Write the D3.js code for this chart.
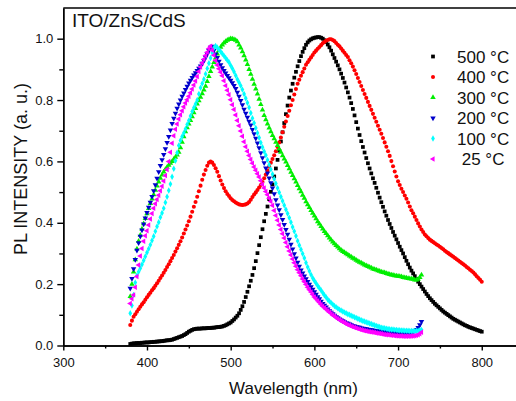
<!DOCTYPE html>
<html>
<head>
<meta charset="utf-8">
<script src="https://cdnjs.cloudflare.com/ajax/libs/d3/7.8.5/d3.min.js"></script>
<style>
  body { margin: 0; background: #fff; }
  text { font-family: "Liberation Sans", Arial, sans-serif; }
</style>
</head>
<body>
<div id="chart"></div>
<script>
// PL spectra, intensity in thousandths, sampled every 2 nm
var startNm = 380;
var stepNm = 2;

var pl500 = [
  5,6,7,7,8,8,8,9,9,10,
  10,10,11,11,12,12,13,13,14,14,
  15,16,17,17,18,19,21,23,25,27,
  29,31,34,37,41,45,48,51,53,54,
  55,55,55,56,56,56,57,57,57,58,
  58,59,60,60,61,62,64,66,69,72,
  75,80,85,91,97,105,116,128,142,158,
  175,193,211,230,252,275,301,327,353,379,
  405,429,453,477,501,525,551,577,605,635,
  665,695,725,754,782,808,831,853,873,892,
  910,927,943,957,969,980,988,994,998,1001,
  1003,1004,1005,1005,1003,1000,995,989,981,972,
  961,949,937,925,913,900,886,872,857,841,
  825,808,790,771,750,728,707,686,666,647,
  629,611,594,577,561,545,530,514,498,482,
  467,452,437,423,409,396,383,370,358,346,
  334,322,311,300,288,276,265,254,244,235,
  226,217,208,200,192,184,176,168,161,154,
  148,142,136,131,126,121,116,111,107,103,
  99,95,91,87,84,81,78,75,72,69,
  66,64,61,59,57,55,53,51,49,47,
  45
];

var pl400 = [
  67,81,94,102,110,118,126,134,141,149,
  157,165,172,180,187,195,203,211,220,228,
  237,246,256,265,275,285,295,306,317,328,
  340,352,365,378,391,405,420,436,452,468,
  485,503,521,540,557,572,586,596,600,596,
  588,578,566,552,538,525,513,503,494,487,
  480,474,470,466,463,460,459,458,459,460,
  463,468,475,484,492,499,507,515,523,533,
  545,557,570,583,596,608,620,633,647,662,
  678,695,713,730,748,765,783,800,818,836,
  853,866,879,891,903,915,923,931,939,947,
  955,961,967,973,979,985,989,993,996,998,
  998,996,992,986,980,975,968,961,954,947,
  940,930,920,909,897,885,872,859,846,833,
  820,807,794,781,768,755,742,729,716,703,
  690,676,662,648,633,618,601,584,567,551,
  535,523,511,500,489,478,466,453,441,431,
  420,409,398,388,378,370,362,356,350,345,
  341,337,333,329,326,322,318,314,309,305,
  301,297,293,289,285,281,277,273,269,265,
  261,256,252,247,243,238,232,226,220,214,
  208
];

var pl300 = [
  160,200,240,280,315,340,360,380,397,414,
  430,447,463,478,492,506,520,533,545,556,
  566,574,581,588,594,600,607,614,621,630,
  645,663,681,697,710,722,734,746,759,773,
  787,798,809,821,833,845,861,877,893,908,
  923,937,950,962,972,980,986,991,995,998,
  1000,999,998,995,990,980,970,958,945,931,
  916,900,884,868,852,836,820,803,786,768,
  750,736,722,709,697,685,674,663,652,641,
  630,619,608,598,587,576,565,554,544,533,
  522,511,501,490,480,469,459,450,440,431,
  422,413,404,396,388,380,372,365,358,351,
  344,338,332,326,321,316,311,307,303,299,
  296,292,289,285,282,278,275,272,269,266,
  263,260,258,255,253,250,248,246,244,242,
  240,238,237,235,233,232,230,229,228,227,
  226,225,224,222,221,220,219,218,217,216,
  214,214,216,222,230
];

var pl200 = [
  186,218,250,280,310,335,356,376,396,415,
  433,450,467,485,504,524,545,566,586,605,
  622,641,661,681,702,723,740,757,773,787,
  800,812,823,834,845,855,864,873,881,889,
  896,903,911,920,929,939,950,961,972,975,
  962,950,938,926,915,905,896,888,880,872,
  864,856,847,837,825,812,798,784,770,757,
  744,731,718,704,690,675,660,644,628,612,
  595,578,562,546,530,513,494,475,458,442,
  426,410,394,378,362,346,330,314,299,285,
  271,258,246,236,226,217,208,199,191,183,
  175,167,159,152,144,137,131,125,119,113,
  108,103,98,94,90,86,83,80,77,74,
  72,70,67,65,63,62,60,59,57,56,
  55,54,53,52,51,50,49,48,47,47,
  46,45,45,44,44,43,43,42,42,42,
  41,41,41,41,41,41,42,42,43,45,
  48,52,58,67,78
];

var pl100 = [
  105,130,165,205,228,240,252,264,277,290,
  303,315,328,342,356,372,388,402,418,432,
  447,466,485,505,526,550,576,602,628,652,
  668,681,693,706,720,733,748,763,775,787,
  800,820,840,854,868,885,903,920,937,954,
  970,976,971,965,958,951,944,937,930,923,
  913,903,892,880,868,857,847,834,820,806,
  791,776,758,741,725,709,693,677,661,646,
  632,620,605,589,574,558,543,528,513,499,
  485,471,457,443,430,416,402,386,372,357,
  341,327,313,299,285,270,256,243,231,220,
  211,203,195,187,180,172,164,157,150,144,
  139,134,129,125,121,117,114,111,108,105,
  102,100,97,95,92,90,87,85,82,80,
  78,76,74,72,70,68,66,64,62,60,
  58,57,56,55,54,53,52,52,51,51,
  50,50,49,49,48,48,48,47,47,47,
  47,47,48,49,51
];

var pl25 = [
  137,152,165,190,225,262,292,316,340,358,
  374,393,412,430,447,462,476,490,504,519,
  536,554,574,600,630,659,684,705,722,738,
  752,765,778,790,801,812,824,836,849,862,
  877,893,908,921,933,945,956,968,975,962,
  946,929,914,902,891,879,863,847,832,817,
  801,785,769,751,733,716,699,682,664,648,
  633,619,606,594,582,571,560,549,537,525,
  513,502,491,480,469,456,440,424,408,393,
  378,364,350,336,322,308,295,282,270,258,
  247,237,227,217,208,199,190,182,174,166,
  158,152,146,140,134,128,123,118,113,108,
  104,99,95,91,87,84,81,77,74,71,
  68,66,63,61,59,57,55,53,51,50,
  48,47,46,45,44,43,42,41,40,39,
  38,37,36,35,35,34,33,33,32,32,
  31,31,31,30,30,30,30,30,31,31,
  32,33,35,38,43
];

var seriesValues = [pl500, pl400, pl300, pl200, pl100, pl25];
var seriesLabels = ["500 °C", "400 °C", "300 °C", "200 °C", "100 °C", "\u00a025 °C"];
var seriesColors = ["#000000", "#ff0000", "#00ee00", "#0000cc", "#00ffff", "#ff00ff"];
var seriesShapes = [d3.symbolSquare, d3.symbolCircle, d3.symbolTriangle, d3.symbolTriangle, d3.symbolDiamond, d3.symbolTriangle];
var seriesTurns = [0, 0, 0, 180, 0, -90];
var seriesSizes = [14, 13, 13, 13, 12, 13];

var xTicks = [300, 400, 500, 600, 700, 800];
var xMinor = [350, 450, 550, 650, 750, 850];
var yTicks = [0, 0.2, 0.4, 0.6, 0.8, 1.0];
var yMinor = [0.1, 0.3, 0.5, 0.7, 0.9];

var svgWidth = 516;
var svgHeight = 401;

var svg = d3.select("#chart")
  .append("svg")
  .attr("width", svgWidth)
  .attr("height", svgHeight);

var x = d3.scaleLinear().domain([300, 850]).range([63.3, 523.6]);
var y = d3.scaleLinear().domain([0, 1.1]).range([345.5, 8]);

// minor ticks first, then major axes
var xMinorAxis = svg.append("g")
  .attr("transform", `translate(0, ${y(0)})`)
  .call(d3.axisBottom(x).tickValues(xMinor).tickSize(3).tickSizeOuter(0).tickFormat(""));

var yMinorAxis = svg.append("g")
  .attr("transform", `translate(${x(300)}, 0)`)
  .call(d3.axisLeft(y).tickValues(yMinor).tickSize(4).tickSizeOuter(0).tickFormat(""));

var xAxis = svg.append("g")
  .attr("transform", `translate(0, ${y(0)})`)
  .call(d3.axisBottom(x).tickValues(xTicks).tickSize(5).tickSizeOuter(0).tickPadding(7));

var yAxis = svg.append("g")
  .attr("transform", `translate(${x(300)}, 0)`)
  .call(d3.axisLeft(y).tickValues(yTicks).tickSize(6).tickSizeOuter(0).tickPadding(4)
    .tickFormat(d3.format(".1f")));

svg.selectAll(".domain, .tick line")
  .attr("stroke", "#000")
  .attr("stroke-width", 1.4);

svg.selectAll(".tick text")
  .attr("font-family", "'Liberation Sans', Arial, sans-serif")
  .attr("font-size", 13)
  .attr("fill", "#111");

// top frame line
svg.append("line")
  .attr("x1", x(300)).attr("x2", x(850))
  .attr("y1", y(1.1)).attr("y2", y(1.1))
  .attr("stroke", "#000")
  .attr("stroke-width", 1.4);

// data points
seriesValues.forEach(function (vals, i) {
  var sym = d3.symbol().type(seriesShapes[i]).size(seriesSizes[i]);
  svg.append("g")
    .selectAll("path")
    .data(vals)
    .enter()
    .append("path")
    .attr("d", sym)
    .attr("fill", seriesColors[i])
    .attr("transform", (d, j) =>
      `translate(${x(startNm + j * stepNm)}, ${y(d / 1000)}) rotate(${seriesTurns[i]})`);
});

// legend
var legend = svg.append("g");
seriesLabels.forEach(function (label, i) {
  var rowY = 56.5 + i * 20.5;
  legend.append("path")
    .attr("d", d3.symbol().type(seriesShapes[i]).size(seriesSizes[i])())
    .attr("fill", seriesColors[i])
    .attr("transform", `translate(433, ${rowY}) rotate(${seriesTurns[i]})`);
  legend.append("text")
    .attr("x", 457)
    .attr("y", rowY + 6)
    .attr("font-size", 17)
    .attr("fill", "#111")
    .text(label);
});

// title inside plot
svg.append("text")
  .attr("x", 72)
  .attr("y", 27)
  .attr("font-size", 19)
  .attr("fill", "#111")
  .text("ITO/ZnS/CdS");

// axis labels
svg.append("text")
  .attr("x", x(575))
  .attr("y", 393.5)
  .attr("text-anchor", "middle")
  .attr("font-size", 17)
  .attr("fill", "#111")
  .text("Wavelength (nm)");

svg.append("text")
  .attr("transform", "translate(27, 169) rotate(-90)")
  .attr("text-anchor", "middle")
  .attr("font-size", 18)
  .attr("fill", "#111")
  .text("PL INTENSITY (a. u.)");
</script>
</body>
</html>
